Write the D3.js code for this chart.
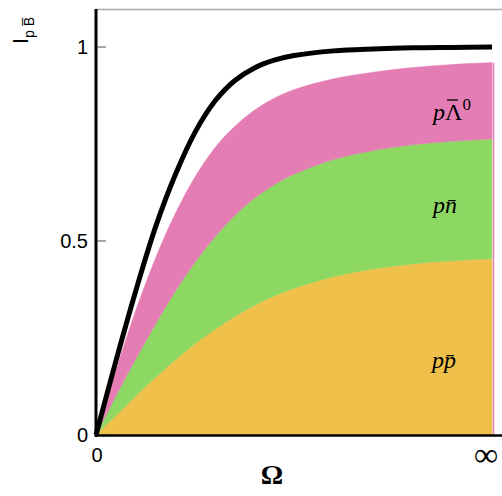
<!DOCTYPE html>
<html><head><meta charset="utf-8">
<script src="https://cdn.jsdelivr.net/npm/d3@7"></script>
<style>body{margin:0;background:#fff}svg{display:block}</style>
</head><body>
<script>
const tPts = [0,0.05,0.1,0.15,0.2,0.25,0.3,0.35,0.4,0.45,0.5,0.6,0.7,0.8,0.9,1];
const totalVals = [0,0.19,0.37,0.535,0.67,0.78,0.86,0.913,0.946,0.966,0.978,0.99,0.995,0.998,0.999,1.0];
const lambdaTop = [0,0.165,0.32,0.455,0.57,0.665,0.74,0.795,0.837,0.868,0.89,0.918,0.935,0.947,0.955,0.96];
const nTop = [0,0.10,0.195,0.285,0.37,0.445,0.51,0.565,0.61,0.645,0.672,0.71,0.733,0.748,0.757,0.763];
const pTop = [0,0.05,0.10,0.148,0.193,0.235,0.272,0.305,0.334,0.358,0.378,0.408,0.428,0.441,0.449,0.454];
const yTicks = [0,0.5,1];
const yTickLabels = ["0","0.5","1"];
const xTickLabels = ["0","\u221E"];
const seriesColors = ["#efc04a","#8cd862","#e57db5"];

const W=502,H=496;
const svg=d3.select("body").append("svg").attr("width",W).attr("height",H);
const x=d3.scaleLinear().domain([0,1]).range([96,492]);
const y=d3.scaleLinear().domain([0,1]).range([435,47]);
const crv=d3.curveCatmullRom.alpha(0.5);

const bands=[
  {lo:tPts.map(()=>0),hi:pTop,c:seriesColors[0]},
  {lo:pTop,hi:nTop,c:seriesColors[1]},
  {lo:nTop,hi:lambdaTop,c:seriesColors[2]}
];
const area=d3.area().x(d=>x(d.t)).y0(d=>y(d.lo)).y1(d=>y(d.hi)).curve(crv);
bands.forEach(b=>{
  const d=tPts.map((t,i)=>({t,lo:b.lo[i],hi:b.hi[i]}));
  svg.append("path").attr("d",area(d)).attr("fill",b.c).attr("stroke",b.c).attr("stroke-width",0.5);
});
svg.append("line").attr("x1",x(1)+1.5).attr("x2",x(1)+1.5).attr("y1",y(0)).attr("y2",y(lambdaTop[lambdaTop.length-1]))
  .attr("stroke",seriesColors[2]).attr("stroke-width",1.5);

const line=d3.line().x((d,i)=>x(tPts[i])).y(d=>y(d)).curve(crv);
svg.append("path").attr("d",line(totalVals)).attr("fill","none").attr("stroke","#000").attr("stroke-width",5);

// axes
svg.append("line").attr("x1",96).attr("x2",W).attr("y1",9.5).attr("y2",9.5).attr("stroke","#aaa").attr("stroke-width",1.5);
yTicks.forEach((v,i)=>{
  svg.append("line").attr("x1",97).attr("x2",106).attr("y1",y(v)).attr("y2",y(v)).attr("stroke","#888").attr("stroke-width",1.5);
  svg.append("text").attr("x",88).attr("y",y(v)+7).attr("text-anchor","end")
    .attr("font-family","Liberation Sans, Arial, sans-serif").attr("font-size",20).text(yTickLabels[i]);
});
svg.append("line").attr("x1",96).attr("x2",96).attr("y1",9).attr("y2",437).attr("stroke","#000").attr("stroke-width",3);
svg.append("line").attr("x1",95).attr("x2",W).attr("y1",435.5).attr("y2",435.5).attr("stroke","#000").attr("stroke-width",2.5);

svg.append("text").attr("x",97).attr("y",462).attr("text-anchor","middle")
  .attr("font-family","Liberation Sans, Arial, sans-serif").attr("font-size",20).text(xTickLabels[0]);
svg.append("text").attr("x",486).attr("y",466).attr("text-anchor","middle")
  .attr("font-family","Liberation Serif, serif").attr("font-size",34).text(xTickLabels[1]);
svg.append("text").attr("x",272).attr("y",484).attr("text-anchor","middle")
  .attr("font-family","Liberation Serif, serif").attr("font-size",28).attr("font-weight","bold").text("\u03A9");

// y label
const yl=svg.append("text").attr("transform","translate(28,44) rotate(-90)")
  .attr("font-family","Liberation Sans, Arial, sans-serif").attr("font-size",22);
yl.append("tspan").text("I");
yl.append("tspan").attr("dy",6).attr("font-size",14).text("p B\u0305");

// series labels
const lf="Liberation Serif, serif";
function lab(xp,yp,parts){
  const t=svg.append("text").attr("x",xp).attr("y",yp).attr("font-family",lf).attr("font-size",24);
  parts.forEach(p=>{const s=t.append("tspan").text(p.s);if(p.it)s.attr("font-style","italic");if(p.dy)s.attr("dy",p.dy);if(p.fs)s.attr("font-size",p.fs);});
}
lab(433,120,[{s:"p",it:true},{s:"\u039B"},{s:"0",dy:-10,fs:17}]);
svg.append("line").attr("x1",447).attr("x2",458).attr("y1",100).attr("y2",100).attr("stroke","#000").attr("stroke-width",1.3);
lab(433,213,[{s:"pn\u0304",it:true}]);
lab(432,368,[{s:"pp\u0304",it:true}]);
</script>
</body></html>
